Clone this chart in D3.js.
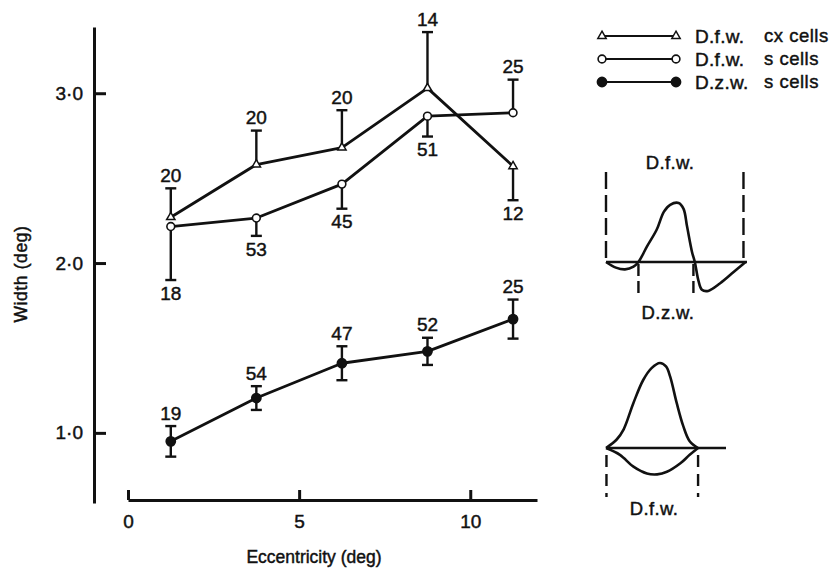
<!DOCTYPE html>
<html>
<head>
<meta charset="utf-8">
<script src="https://cdn.jsdelivr.net/npm/d3@7"></script>
<style>
  body { margin: 0; background: #fff; }
  svg { display: block; }
  text { font-family: "Liberation Sans", Arial, Helvetica, sans-serif; fill: #111; stroke: #111; stroke-width: 0.45px; }
</style>
</head>
<body>
<div id="app"></div>
<script>
// eccentricity of each group (deg)
const eccentricity = [1.25, 3.75, 6.25, 8.75, 11.25];

// D.f.w. cx cells
const cxMean = [2.27, 2.58, 2.68, 3.03, 2.57];
const cxErr = [0.17, 0.20, 0.22, 0.33, 0.20];
const cxDir = ["up", "up", "up", "up", "down"];
const cxN = [20, 20, 20, 14, 12];

// D.f.w. s cells
const sMean = [2.215, 2.265, 2.465, 2.865, 2.885];
const sErr = [0.315, 0.105, 0.145, 0.12, 0.195];
const sDir = ["down", "down", "down", "down", "up"];
const sN = [18, 53, 45, 51, 25];

// D.z.w. s cells
const zwMean = [0.95, 1.205, 1.41, 1.48, 1.67];
const zwErr = [0.09, 0.07, 0.10, 0.08, 0.115];
const zwDir = ["both", "both", "both", "both", "both"];
const zwN = [19, 54, 47, 52, 25];

const yTicks = [1, 2, 3];
const xTicks = [0, 5, 10];
const legendNames = ["D.f.w.", "D.f.w.", "D.z.w."];
const legendCells = ["cx cells", "s cells", "s cells"];
const legendMarks = ["triangle", "open", "filled"];

// schematic profiles for the insets (u: 0..1 across, v: relative amplitude)
const dogProfile = [[0,0],[0.07,-0.095],[0.135,-0.125],[0.195,-0.08],[0.23,0],[0.29,0.26],
  [0.36,0.55],[0.41,0.85],[0.455,0.97],[0.515,1.0],[0.55,0.9],[0.575,0.6],[0.61,0.17],
  [0.63,0],[0.655,-0.31],[0.68,-0.47],[0.725,-0.49],[0.81,-0.36],[0.905,-0.17],[0.99,0]];
const centreProfile = [[0,0],[0.115,0.1],[0.19,0.22],[0.295,0.53],[0.4,0.8],[0.49,0.94],
  [0.58,1.0],[0.645,0.96],[0.69,0.84],[0.76,0.53],[0.83,0.26],[0.9,0.08],[0.99,0]];
const surroundProfile = [[0,0],[0.15,-0.08],[0.295,-0.22],[0.44,-0.3],[0.55,-0.31],
  [0.655,-0.28],[0.8,-0.18],[0.9,-0.08],[0.99,0]];

const width = 831;
const height = 568;

let svg = d3.select("#app")
  .append("svg")
    .attr("width", width)
    .attr("height", height);

// scales
const x = d3.scaleLinear().domain([0, 11.95]).range([128, 537]);
const y = d3.scaleLinear().domain([0.587, 3.39]).range([503, 27]);

// y axis
const yAxis = svg.append("g")
  .attr("transform", "translate(94,0)")
  .call(d3.axisLeft(y)
    .tickValues(yTicks)
    .tickSizeInner(-12)
    .tickSizeOuter(0)
    .tickPadding(11)
    .tickFormat(d => d.toFixed(1).replace(".", "\u00b7")));

// x axis
const xAxis = svg.append("g")
  .attr("transform", "translate(0,500)")
  .call(d3.axisBottom(x)
    .tickValues(xTicks)
    .tickSizeInner(-10)
    .tickSizeOuter(0)
    .tickPadding(15));

[yAxis, xAxis].forEach(g => {
  g.select(".domain").attr("stroke", "#111").attr("stroke-width", 3);
  g.selectAll(".tick line").attr("stroke", "#111").attr("stroke-width", 3);
  g.selectAll(".tick text")
    .attr("fill", "#111")
    .style("font-size", "19px")
    .style("font-family", "Liberation Sans, Arial, sans-serif");
});

// axis titles
svg.append("text")
  .attr("x", 314)
  .attr("y", 557)
  .attr("dy", "0.35em")
  .attr("text-anchor", "middle")
  .style("font-size", "17.5px")
  .text("Eccentricity (deg)");

svg.append("text")
  .attr("transform", "translate(21,274) rotate(-90)")
  .attr("dy", "0.35em")
  .attr("text-anchor", "middle")
  .style("font-size", "17.5px")
  .style("letter-spacing", "0.6px")
  .text("Width (deg)");

// build series
function makeSeries(mean, err, dir, n) {
  return eccentricity.map((e, i) => ({ e: e, m: mean[i], err: err[i], dir: dir[i], n: n[i] }));
}
const series = [
  { key: "cx", mark: "triangle", data: makeSeries(cxMean, cxErr, cxDir, cxN) },
  { key: "s", mark: "open", data: makeSeries(sMean, sErr, sDir, sN) },
  { key: "zw", mark: "filled", data: makeSeries(zwMean, zwErr, zwDir, zwN) }
];

const line = d3.line()
  .x(d => x(d.e))
  .y(d => y(d.m));

const capHalf = 5.5;

series.forEach(s => {
  const g = svg.append("g").attr("class", "series-" + s.key);

  g.append("path")
    .datum(s.data)
    .attr("d", line)
    .attr("fill", "none")
    .attr("stroke", "#111")
    .attr("stroke-width", 2.8)
    .attr("stroke-linejoin", "round");

  // error bars
  const bars = g.selectAll(".err")
    .data(s.data)
    .enter().append("g")
      .attr("class", "err");

  bars.each(function(d) {
    const b = d3.select(this);
    const ends = [];
    if (d.dir === "up" || d.dir === "both") ends.push(d.m + d.err);
    if (d.dir === "down" || d.dir === "both") ends.push(d.m - d.err);
    ends.forEach(v => {
      b.append("line")
        .attr("x1", x(d.e)).attr("x2", x(d.e))
        .attr("y1", y(d.m)).attr("y2", y(v))
        .attr("stroke", "#111").attr("stroke-width", 2.4);
      b.append("line")
        .attr("x1", x(d.e) - capHalf).attr("x2", x(d.e) + capHalf)
        .attr("y1", y(v)).attr("y2", y(v))
        .attr("stroke", "#111").attr("stroke-width", 2.4);
    });
    // number of cells, beyond the cap
    const labelV = d.dir === "down" ? d.m - d.err : d.m + d.err;
    const off = d.dir === "down" ? 13 : -13;
    b.append("text")
      .attr("x", x(d.e))
      .attr("y", y(labelV) + off)
      .attr("dy", "0.35em")
      .attr("text-anchor", "middle")
      .style("font-size", "19px")
      .text(d.n);
  });

  drawMarks(g, s.data, s.mark, d => x(d.e), d => y(d.m));
});

function drawMarks(g, data, mark, fx, fy) {
  if (mark === "triangle") {
    g.selectAll(".mk")
      .data(data)
      .enter().append("path")
        .attr("class", "mk")
        .attr("d", d3.symbol(d3.symbolTriangle).size(30))
        .attr("transform", d => `translate(${fx(d)},${fy(d)})`)
        .attr("fill", "#fff")
        .attr("stroke", "#111")
        .attr("stroke-width", 1.5);
  } else {
    g.selectAll(".mk")
      .data(data)
      .enter().append("circle")
        .attr("class", "mk")
        .attr("cx", fx)
        .attr("cy", fy)
        .attr("r", mark === "open" ? 3.9 : 4.6)
        .attr("fill", mark === "open" ? "#fff" : "#111")
        .attr("stroke", "#111")
        .attr("stroke-width", 1.6);
  }
}

// legend
const legendY = d3.scaleLinear().domain([0, 2]).range([36, 82]);
const legendX = d3.scaleLinear().domain([0, 1]).range([602, 676]);

legendMarks.forEach((mk, i) => {
  const g = svg.append("g").attr("class", "legend");
  g.append("line")
    .attr("x1", legendX(0)).attr("x2", legendX(1))
    .attr("y1", legendY(i)).attr("y2", legendY(i))
    .attr("stroke", "#111").attr("stroke-width", 2.2);
  drawMarks(g, [0, 1], mk, d => legendX(d), () => legendY(i));
  g.append("text")
    .attr("x", 695)
    .attr("y", legendY(i))
    .attr("dy", "0.35em")
    .style("font-size", "19px")
    .style("letter-spacing", "0.3px")
    .text(legendNames[i]);
  g.append("text")
    .attr("x", 764)
    .attr("y", legendY(i))
    .attr("dy", "0.35em")
    .style("font-size", "18.5px")
    .style("letter-spacing", "0.5px")
    .text(legendCells[i]);
});

// inset 1: difference of gaussians profile
const in1x = d3.scaleLinear().domain([0, 1]).range([606, 747]);
const in1y = d3.scaleLinear().domain([0, 1]).range([262, 203]);
const in1 = svg.append("g").attr("class", "inset1");

in1.append("line")
  .attr("x1", in1x(0)).attr("x2", in1x(1))
  .attr("y1", in1y(0)).attr("y2", in1y(0))
  .attr("stroke", "#111").attr("stroke-width", 2.4);

in1.append("path")
  .datum(dogProfile)
  .attr("d", d3.line().x(d => in1x(d[0])).y(d => in1y(d[1])).curve(d3.curveCatmullRom))
  .attr("fill", "none").attr("stroke", "#111").attr("stroke-width", 2.6);

// full width markers (dashed, above)
[0, 0.975].forEach(u => {
  in1.append("line")
    .attr("x1", in1x(u)).attr("x2", in1x(u))
    .attr("y1", 172).attr("y2", in1y(0))
    .attr("stroke", "#111").attr("stroke-width", 2.4)
    .attr("stroke-dasharray", "17,6");
});
// zero-crossing markers (dashed, below)
[0.23, 0.62].forEach(u => {
  in1.append("line")
    .attr("x1", in1x(u)).attr("x2", in1x(u))
    .attr("y1", in1y(0) + 2).attr("y2", 297)
    .attr("stroke", "#111").attr("stroke-width", 2.4)
    .attr("stroke-dasharray", "12,5");
});

in1.append("text")
  .attr("x", 670).attr("y", 163).attr("dy", "0.35em")
  .attr("text-anchor", "middle")
  .style("font-size", "18.5px").style("letter-spacing", "0.4px")
  .text("D.f.w.");
in1.append("text")
  .attr("x", 668).attr("y", 313).attr("dy", "0.35em")
  .attr("text-anchor", "middle")
  .style("font-size", "18.5px").style("letter-spacing", "0.4px")
  .text("D.z.w.");

// inset 2: centre and surround components
const in2x = d3.scaleLinear().domain([0, 1]).range([606, 699]);
const in2y = d3.scaleLinear().domain([0, 1]).range([448, 363]);
const in2 = svg.append("g").attr("class", "inset2");

in2.append("line")
  .attr("x1", in2x(0)).attr("x2", 726)
  .attr("y1", in2y(0)).attr("y2", in2y(0))
  .attr("stroke", "#111").attr("stroke-width", 2.4);

[centreProfile, surroundProfile].forEach(p => {
  in2.append("path")
    .datum(p)
    .attr("d", d3.line().x(d => in2x(d[0])).y(d => in2y(d[1])).curve(d3.curveCatmullRom))
    .attr("fill", "none").attr("stroke", "#111").attr("stroke-width", 2.6);
});

[0.005, 0.99].forEach(u => {
  in2.append("line")
    .attr("x1", in2x(u)).attr("x2", in2x(u))
    .attr("y1", 455).attr("y2", 497)
    .attr("stroke", "#111").attr("stroke-width", 2.4)
    .attr("stroke-dasharray", "12,7");
});

in2.append("text")
  .attr("x", 654).attr("y", 509).attr("dy", "0.35em")
  .attr("text-anchor", "middle")
  .style("font-size", "18.5px").style("letter-spacing", "0.4px")
  .text("D.f.w.");
</script>
</body>
</html>
